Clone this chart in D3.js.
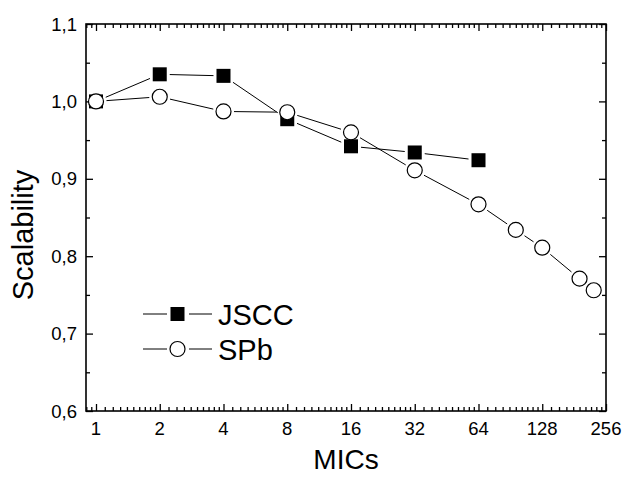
<!DOCTYPE html>
<html>
<head>
<meta charset="utf-8">
<script src="https://cdn.jsdelivr.net/npm/d3@7"></script>
<style>
  body { margin: 0; background: #fff; }
  svg { font-family: Arial, "Liberation Sans", sans-serif; }
</style>
</head>
<body>
<div id="chart"></div>
<script>
// data
var jsccMics = [1, 2, 4, 8, 16, 32, 64];
var jsccValues = [1.0, 1.035, 1.033, 0.977, 0.942, 0.934, 0.924];
var spbMics = [1, 2, 4, 8, 16, 32, 64, 96, 128, 192, 224];
var spbValues = [1.0, 1.006, 0.987, 0.986, 0.960, 0.911, 0.867, 0.834, 0.811, 0.771, 0.756];
var xTicks = [1, 2, 4, 8, 16, 32, 64, 128, 256];
var yTicks = [0.6, 0.7, 0.8, 0.9, 1.0, 1.1];

var width = 623, height = 477;
var margin = { left: 86, right: 17, top: 24, bottom: 66 };

var svg = d3.select("#chart").append("svg")
  .attr("width", width)
  .attr("height", height);

var x = d3.scaleLog().base(2)
  .domain([0.897, 256])
  .range([margin.left, width - margin.right]);
var y = d3.scaleLinear()
  .domain([0.6, 1.1])
  .range([height - margin.bottom, margin.top]);

var x0 = margin.left, x1 = width - margin.right;
var y0 = height - margin.bottom, y1 = margin.top;

// minor ticks for the log axis: base*(1+k/10)
var xMinor = [];
[0.5, 1, 2, 4, 8, 16, 32, 64, 128].forEach(function (b) {
  for (var k = 1; k <= 9; k++) {
    var v = b * (1 + k / 10);
    if (v >= 0.897 && v <= 256) xMinor.push(v);
  }
});
var yMinor = d3.range(0.65, 1.1, 0.1);

var fmt = function (d) { return d3.format(".1f")(d).replace(".", ","); };

// axes, ticks pointing inward
svg.append("g")
  .attr("transform", "translate(0," + y0 + ")")
  .call(d3.axisTop(x).tickValues(xMinor).tickSize(4).tickFormat(""));
svg.append("g")
  .attr("transform", "translate(0," + y0 + ")")
  .call(d3.axisTop(x).tickValues(xTicks).tickSize(7).tickFormat(""));
svg.append("g")
  .attr("transform", "translate(0," + y1 + ")")
  .call(d3.axisBottom(x).tickValues(xMinor).tickSize(4).tickFormat(""));
svg.append("g")
  .attr("transform", "translate(0," + y1 + ")")
  .call(d3.axisBottom(x).tickValues(xTicks).tickSize(7).tickFormat(""));
svg.append("g")
  .attr("transform", "translate(" + x0 + ",0)")
  .call(d3.axisRight(y).tickValues(yTicks).tickSize(7).tickFormat(""));
svg.append("g")
  .attr("transform", "translate(" + x0 + ",0)")
  .call(d3.axisRight(y).tickValues(yMinor).tickSize(4).tickFormat(""));
svg.append("g")
  .attr("transform", "translate(" + x1 + ",0)")
  .call(d3.axisLeft(y).tickValues(yTicks).tickSize(7).tickFormat(""));
svg.append("g")
  .attr("transform", "translate(" + x1 + ",0)")
  .call(d3.axisLeft(y).tickValues(yMinor).tickSize(4).tickFormat(""));

svg.selectAll(".domain").remove();
svg.selectAll(".tick line").attr("stroke", "#000").attr("stroke-width", 1.3);

// frame
svg.append("rect")
  .attr("x", x0).attr("y", y1)
  .attr("width", x1 - x0).attr("height", y0 - y1)
  .attr("fill", "none").attr("stroke", "#000").attr("stroke-width", 1.6);

// tick labels
svg.selectAll(".xlab").data(xTicks).enter().append("text")
  .attr("x", function (d) { return x(d); })
  .attr("y", y0 + 24)
  .attr("text-anchor", "middle")
  .attr("font-size", 18.5)
  .text(function (d) { return d; });
svg.selectAll(".ylab").data(yTicks).enter().append("text")
  .attr("x", x0 - 9)
  .attr("y", function (d) { return y(d) + 6.5; })
  .attr("text-anchor", "end")
  .attr("font-size", 18.5)
  .text(fmt);

// axis titles
svg.append("text")
  .attr("x", (x0 + x1) / 2).attr("y", 469)
  .attr("text-anchor", "middle").attr("font-size", 28)
  .text("MICs");
svg.append("text")
  .attr("transform", "translate(33,235) rotate(-90)")
  .attr("text-anchor", "middle").attr("font-size", 29)
  .text("Scalability");

// line segments with a small gap before each marker
var sq = 14, rc = 7.5, gap = 3;
function segments(xs, vs, half) {
  var out = [];
  for (var i = 0; i < xs.length - 1; i++) {
    var ax = x(xs[i]), ay = y(vs[i]), bx = x(xs[i + 1]), by = y(vs[i + 1]);
    var dx = bx - ax, dy = by - ay, len = Math.sqrt(dx * dx + dy * dy);
    var ux = dx / len, uy = dy / len;
    var cut = half(ux, uy) + gap;
    if (len > 2 * cut) out.push([ax + ux * cut, ay + uy * cut, bx - ux * cut, by - uy * cut]);
  }
  return out;
}
var sqHalf = function (ux, uy) {
  return Math.min((sq / 2) / Math.max(Math.abs(ux), 1e-6), (sq / 2) / Math.max(Math.abs(uy), 1e-6));
};
var ciHalf = function () { return rc; };

function drawSegs(segs) {
  svg.append("g").selectAll("line").data(segs).enter().append("line")
    .attr("x1", function (d) { return d[0]; })
    .attr("y1", function (d) { return d[1]; })
    .attr("x2", function (d) { return d[2]; })
    .attr("y2", function (d) { return d[3]; })
    .attr("stroke", "#000").attr("stroke-width", 1);
}
drawSegs(segments(jsccMics, jsccValues, sqHalf));
drawSegs(segments(spbMics, spbValues, ciHalf));

var jscc = d3.zip(jsccMics, jsccValues);
var spb = d3.zip(spbMics, spbValues);

// markers
svg.selectAll(".sq").data(jscc).enter().append("rect")
  .attr("x", function (d) { return x(d[0]) - sq / 2; })
  .attr("y", function (d) { return y(d[1]) - sq / 2; })
  .attr("width", sq).attr("height", sq)
  .attr("fill", "#000");
svg.selectAll(".ci").data(spb).enter().append("circle")
  .attr("cx", function (d) { return x(d[0]); })
  .attr("cy", function (d) { return y(d[1]); })
  .attr("r", rc)
  .attr("fill", "#fff").attr("stroke", "#000").attr("stroke-width", 1.2);

// legend
var lg = svg.append("g");
[{ name: "JSCC", y: 314 }, { name: "SPb", y: 349 }].forEach(function (s, i) {
  lg.append("line").attr("x1", 143).attr("x2", 167)
    .attr("y1", s.y).attr("y2", s.y)
    .attr("stroke", "#000").attr("stroke-width", 1);
  lg.append("line").attr("x1", 189).attr("x2", 212)
    .attr("y1", s.y).attr("y2", s.y)
    .attr("stroke", "#000").attr("stroke-width", 1);
  if (i === 0) {
    lg.append("rect").attr("x", 177.5 - sq / 2).attr("y", s.y - sq / 2)
      .attr("width", sq).attr("height", sq).attr("fill", "#000");
  } else {
    lg.append("circle").attr("cx", 177.5).attr("cy", s.y).attr("r", rc)
      .attr("fill", "#fff").attr("stroke", "#000").attr("stroke-width", 1.2);
  }
  lg.append("text").attr("x", 218).attr("y", s.y + 10.5)
    .attr("font-size", 29).text(s.name);
});
</script>
</body>
</html>
